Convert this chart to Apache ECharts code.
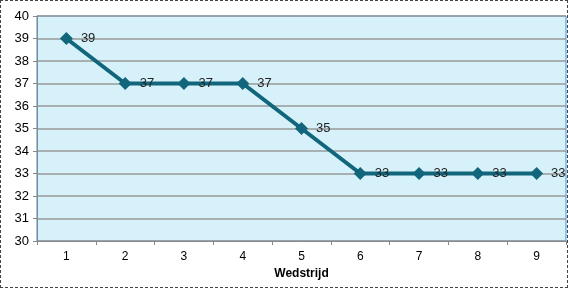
<!DOCTYPE html>
<html><head><meta charset="utf-8">
<script src="https://cdn.jsdelivr.net/npm/echarts@6/dist/echarts.min.js"></script>
<style>
html,body{margin:0;padding:0;background:#fff;}
#wrap{position:relative;width:568px;height:288px;}
#c{position:absolute;left:0;top:0;width:568px;height:288px;}
#b{position:absolute;left:0;top:0;width:568px;height:288px;box-sizing:border-box;border:1px dashed #444;pointer-events:none;}
</style></head>
<body><div id="wrap"><div id="c"></div><div id="b"></div></div>
<script>
const categories = ['1','2','3','4','5','6','7','8','9'];
const values = [39,37,37,37,35,33,33,33,33];
const xTitle = 'Wedstrijd';
const chart = echarts.init(document.getElementById('c'));
chart.setOption({
  animation:false,
  grid:{left:37,right:2,top:16,bottom:47,show:true,backgroundColor:'#d6f1f9',borderColor:'#3d8fd6',borderWidth:1},
  xAxis:{type:'category',data:categories,boundaryGap:true,
    name:xTitle,nameLocation:'middle',nameGap:23,
    nameTextStyle:{fontFamily:'Liberation Sans',fontWeight:'bold',fontSize:12,color:'#000'},
    axisLine:{lineStyle:{color:'#888',width:1}},
    axisTick:{show:true,length:4,lineStyle:{color:'#888'}},
    axisLabel:{fontFamily:'Liberation Sans',fontSize:12,color:'#000',margin:10}},
  yAxis:{type:'value',min:30,max:40,interval:1,
    axisLine:{show:true,lineStyle:{color:'#888'}},
    axisTick:{show:true,length:4,lineStyle:{color:'#888'}},
    axisLabel:{fontFamily:'Liberation Sans',fontSize:13,color:'#000',margin:8},
    splitLine:{lineStyle:{color:'#999',width:1.5}}},
  series:[{type:'line',data:values,symbol:'diamond',symbolSize:13,
    lineStyle:{color:'#11667c',width:4},itemStyle:{color:'#11667c'},
    label:{show:true,position:'right',distance:8,fontFamily:'Liberation Sans',fontSize:13,color:'#222'}}]
});
</script></body></html>
